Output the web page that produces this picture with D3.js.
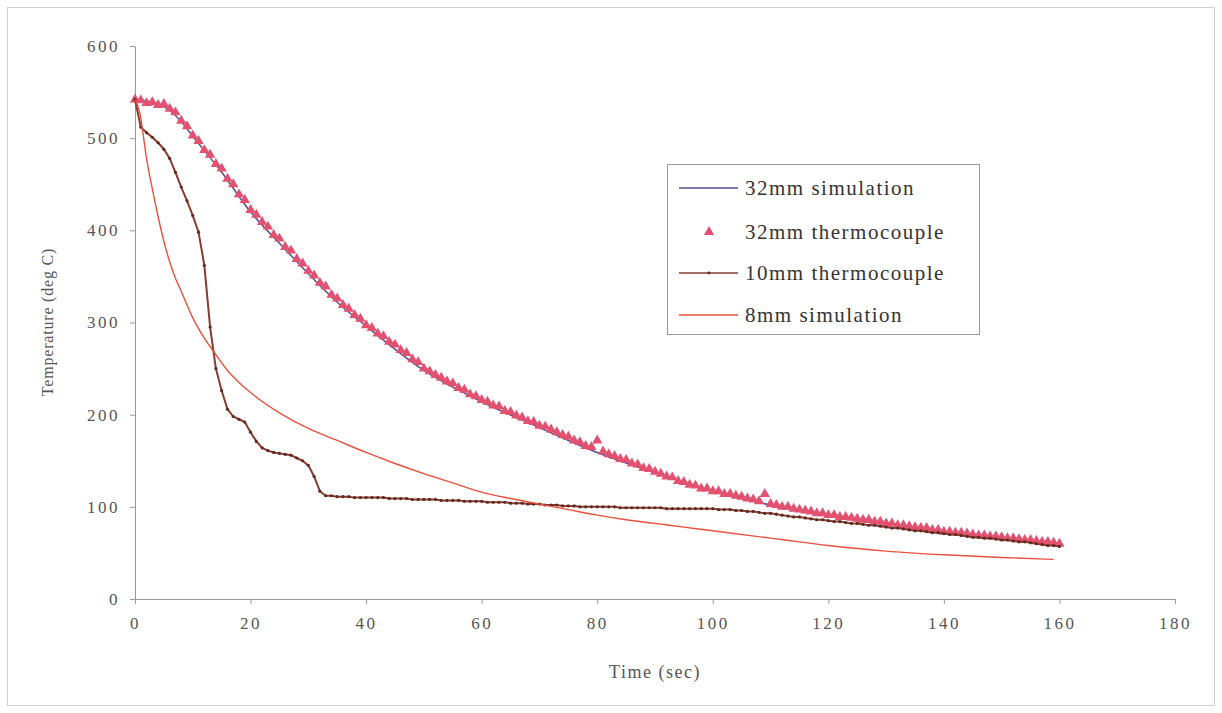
<!DOCTYPE html>
<html>
<head>
<meta charset="utf-8">
<script src="https://cdn.jsdelivr.net/npm/d3@7"></script>
<style>
  body { margin: 0; background: #fff; }
  svg text { font-family: "Liberation Serif", "DejaVu Serif", serif !important; }
</style>
</head>
<body>
<svg width="1222" height="713"></svg>
<script>
// 32mm simulation (smooth model curve)
const sim32Time = [0, 2, 4, 6, 8, 10, 15, 20, 25, 30, 35, 40, 50, 60, 70, 80, 90, 100, 110, 120, 130, 140, 150, 160];
const sim32Temp = [542, 540, 537, 530, 518, 502, 463, 420, 386, 353, 322, 296, 248, 214, 186, 159, 137, 117, 102, 90, 81, 73, 66, 59];

// 32mm thermocouple, one reading per second from t = 0 to 160
const tc32Temp = [
  542, 541, 538, 539, 536, 537, 532, 528, 519, 513, 503, 497, 487, 482, 472, 467, 456, 450, 439, 433,
  422, 417, 409, 404, 395, 391, 382, 378, 369, 364, 356, 351, 343, 339, 330, 326, 319, 315, 308, 304,
  297, 294, 288, 285, 279, 276, 270, 267, 260, 257, 250, 247, 243, 240, 236, 234, 229, 227, 222, 220,
  216, 214, 210, 209, 204, 203, 199, 197, 193, 192, 188, 187, 184, 181, 178, 176, 172, 170, 166, 165,
  172, 160, 157, 155, 152, 151, 147, 146, 142, 141, 138, 136, 133, 132, 128, 127, 124, 123, 120, 120,
  117, 117, 114, 114, 112, 111, 109, 108, 106, 114, 103, 102, 100, 100, 98, 97, 96, 95, 93, 93,
  91, 91, 89, 89, 88, 87, 86, 86, 84, 84, 82, 82, 80, 80, 79, 78, 77, 77, 75, 75,
  73, 73, 72, 72, 71, 70, 69, 69, 68, 68, 67, 66, 66, 65, 64, 64, 63, 62, 62, 61,
  60
];

// 10mm thermocouple, one reading per second from t = 0 to 160
const tc10Temp = [
  542, 512, 506, 501, 495, 488, 478, 463, 447, 432, 416, 398, 362, 295, 250, 226, 206, 198, 195, 192,
  181, 171, 164, 161, 159, 158, 157, 156, 153, 150, 145, 133, 117, 112, 112, 111, 111, 111, 110, 110,
  110, 110, 110, 110, 109, 109, 109, 109, 108, 108, 108, 108, 108, 107, 107, 107, 107, 106, 106, 106,
  106, 105, 105, 105, 105, 104, 104, 104, 103, 103, 103, 102, 102, 102, 101, 101, 101, 100, 100, 100,
  100, 100, 100, 100, 99, 99, 99, 99, 99, 99, 99, 99, 98, 98, 98, 98, 98, 98, 98, 98,
  98, 97, 97, 97, 96, 96, 95, 95, 94, 93, 93, 92, 91, 90, 89, 89, 88, 87, 86, 86,
  85, 84, 84, 83, 82, 82, 81, 80, 80, 79, 78, 77, 77, 76, 75, 74, 74, 73, 72, 72,
  71, 70, 70, 69, 68, 67, 67, 66, 66, 65, 64, 64, 63, 62, 62, 61, 60, 59, 58, 58,
  57
];

// 8mm simulation
const sim8Time = [0, 0.5, 1, 1.5, 2, 3, 4, 5, 6, 7, 8, 10, 12, 14, 16, 18, 20, 25, 30, 35, 40, 45, 50, 55, 60, 65, 70, 75, 80, 85, 90, 95, 100, 110, 115, 120, 130, 140, 150, 159];
const sim8Temp = [542, 535, 522, 500, 478, 445, 415, 388, 366, 348, 334, 305, 283, 265, 248, 235, 224, 202, 185, 172, 159, 147, 136, 126, 116, 109, 103, 97, 91, 86, 82, 78, 74, 66, 62, 58, 52, 48, 45, 43];

const xTicks = [0, 20, 40, 60, 80, 100, 120, 140, 160, 180];
const yTicks = [0, 100, 200, 300, 400, 500, 600];

const legendLabels = ["32mm simulation", "32mm thermocouple", "10mm thermocouple", "8mm simulation"];

const colBlue = "#4f5190", colPink = "#e4506f", colBrown = "#8a3b2f", colRed = "#e8503f";
const serif = "'Liberation Serif', 'DejaVu Serif', serif";

const svg = d3.select("svg");

svg.append("rect")
    .attr("x", 7.5).attr("y", 7.5)
    .attr("width", 1207).attr("height", 698)
    .attr("fill", "none")
    .attr("stroke", "#d0d0d0");

const x = d3.scaleLinear().domain([0, 180]).range([135, 1175]);
const y = d3.scaleLinear().domain([0, 600]).range([599, 46]);

const xAxis = svg.append("g")
    .attr("transform", `translate(0,${y(0)})`)
    .call(d3.axisBottom(x).tickValues(xTicks).tickSize(5).tickSizeOuter(0).tickPadding(10));
const yAxis = svg.append("g")
    .attr("transform", `translate(${x(0)},0)`)
    .call(d3.axisLeft(y).tickValues(yTicks).tickSize(5).tickSizeOuter(0).tickPadding(10));

[xAxis, yAxis].forEach(a => {
  a.attr("font-family", serif);
  a.select(".domain").attr("stroke", "#9a9a9a");
  a.selectAll(".tick line").attr("stroke", "#9a9a9a");
  a.selectAll(".tick text")
      .attr("fill", "#555")
      .style("font-size", "17px")
      .style("letter-spacing", "2.5px");
});
xAxis.selectAll(".tick text").attr("dy", "0.9em");

svg.append("text")
    .attr("x", 655).attr("y", 678)
    .attr("text-anchor", "middle")
    .attr("fill", "#555")
    .style("font-size", "18px")
    .style("letter-spacing", "1.5px")
    .text("Time (sec)");

svg.append("text")
    .attr("transform", "translate(53,322) rotate(-90)")
    .attr("text-anchor", "middle")
    .attr("fill", "#555")
    .style("font-size", "16px")
    .style("letter-spacing", "0.8px")
    .text("Temperature (deg C)");

const secs = d3.range(tc32Temp.length);

const line = d3.line().x(d => x(d[0])).y(d => y(d[1]));
const smooth = d3.line().curve(d3.curveMonotoneX).x(d => x(d[0])).y(d => y(d[1]));

// 32mm simulation
svg.append("path")
    .datum(d3.zip(sim32Time, sim32Temp))
    .attr("fill", "none")
    .attr("stroke", colBlue)
    .attr("stroke-width", 1.5)
    .attr("d", smooth);

// 32mm thermocouple triangles
const tri = d3.symbol().type(d3.symbolTriangle).size(46);
svg.append("g")
  .selectAll("path")
  .data(d3.zip(secs, tc32Temp))
  .join("path")
    .attr("transform", d => `translate(${x(d[0])},${y(d[1])})`)
    .attr("d", tri)
    .attr("fill", colPink);

// 10mm thermocouple
svg.append("path")
    .datum(d3.zip(secs, tc10Temp))
    .attr("fill", "none")
    .attr("stroke", colBrown)
    .attr("stroke-width", 2)
    .attr("d", line);
svg.append("g")
  .selectAll("circle")
  .data(d3.zip(secs, tc10Temp))
  .join("circle")
    .attr("cx", d => x(d[0]))
    .attr("cy", d => y(d[1]))
    .attr("r", 1.6)
    .attr("fill", "#5e2a22");

// 8mm simulation
svg.append("path")
    .datum(d3.zip(sim8Time, sim8Temp))
    .attr("fill", "none")
    .attr("stroke", colRed)
    .attr("stroke-width", 1.4)
    .attr("d", smooth);

// legend
const lg = svg.append("g").attr("transform", "translate(667,164)");
lg.append("rect")
    .attr("x", 0.5).attr("y", 0.5)
    .attr("width", 312).attr("height", 170)
    .attr("fill", "#fff")
    .attr("stroke", "#9a9a9a");

const rowY = [24, 68, 109, 151];
legendLabels.forEach((lab, i) => {
  const ry = rowY[i];
  if (i === 1) {
    lg.append("path")
        .attr("transform", `translate(42,${ry})`)
        .attr("d", tri)
        .attr("fill", colPink);
  } else {
    lg.append("line")
        .attr("x1", 12).attr("x2", 71)
        .attr("y1", ry).attr("y2", ry)
        .attr("stroke", [colBlue, null, colBrown, colRed][i])
        .attr("stroke-width", 1.6);
    if (i === 2) {
      lg.append("circle").attr("cx", 42).attr("cy", ry).attr("r", 1.4).attr("fill", "#5e2a22");
    }
  }
  lg.append("text")
      .attr("x", 78).attr("y", ry)
      .attr("dy", "0.35em")
      .attr("fill", "#333")
      .style("font-size", "21px")
      .style("letter-spacing", "1.5px")
      .text(lab);
});
</script>
</body>
</html>
